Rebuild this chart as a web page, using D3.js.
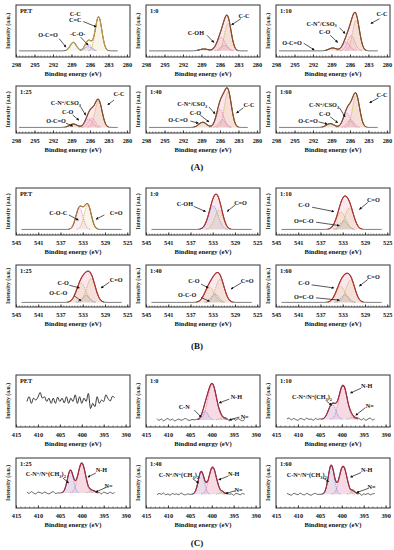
<!DOCTYPE html>
<html><head><meta charset="utf-8">
<script src="https://cdn.jsdelivr.net/npm/d3@7"></script>
<style>
body{margin:0;background:#fff}
text{font-family:"Liberation Serif","Times New Roman",serif;font-weight:bold;fill:#111}
</style>
</head><body>
<svg id="fig" width="394" height="550"></svg>
<script>
// ---- data ----
const groupNames = ["(A)", "(B)", "(C)"];
const panelNames = ["PET", "1:0", "1:10", "1:25", "1:40", "1:60"];
const xDomains = [[298, 279.5], [545, 524.5], [415, 389]];
const xTicks = [
  [298, 295, 292, 289, 286, 283, 280],
  [545, 541, 537, 533, 529, 525],
  [415, 410, 405, 400, 395, 390]
];
const rawSpan = [[297.5, 281.5], [544, 526], [412.5, 392.5]];
const xTitles = [
  ["Binding energy (eV)", "Binding energy (eV)", "Binding energy (eV)", "Binding energy (eV)", "Binding energy (eV)", "Binding energy (eV)"],
  ["Binding energy (eV)", "Binding energy (eV)", "Binding energy (eV)", "Binding energy (eV)", "Binding energy (eV)", "Binding energy (eV)"],
  ["Binding energy (eV)", "Bindind engrgy (eV)", "Binding energy (eV)", "Binding energy (eV)", "Binding energy (eV)", "Binding energy (eV)"]
];
// baseline level of each spectrum
const baseLevels = [
  [0.03, 0.03, 0.03, 0.03, 0.03, 0.03],
  [0.03, 0.03, 0.03, 0.02, 0.02, 0.02],
  [0, 0.05, 0.06, 0.23, 0.2, 0.2]
];
// fitted components: [state, centre eV, height, FWHM eV]
const peaks = [
  [
    [["C-C", 284.6, 0.72, 1.25], ["C-O", 286.2, 0.13, 1.2], ["C-Ob", 286.3, 0.09, 1.3], ["O-C=O", 288.7, 0.18, 1.2]],
    [["C-C", 284.7, 0.58, 1.3], ["C-O", 285.8, 0.28, 1.6], ["C-N", 285.3, 0.12, 1.4], ["O-C=O", 288.6, 0.04, 1.6]],
    [["C-C", 285.0, 0.65, 1.35], ["C-N", 285.8, 0.32, 1.4], ["C-O", 286.6, 0.18, 1.4], ["O-C=O", 288.8, 0.06, 1.5]],
    [["C-C", 284.6, 0.62, 1.35], ["C-N", 285.7, 0.22, 1.3], ["C-O", 286.2, 0.2, 1.4], ["O-C=O", 288.7, 0.08, 1.5]],
    [["C-C", 284.7, 0.82, 1.35], ["C-N", 285.6, 0.18, 1.3], ["C-O", 286.0, 0.42, 1.4], ["O-C=O", 288.8, 0.12, 1.5]],
    [["C-C", 285.0, 0.74, 1.35], ["C-N", 285.9, 0.18, 1.3], ["C-O", 286.5, 0.33, 1.4], ["O-C=O", 289.2, 0.09, 1.5]]
  ],
  [
    [["C-O-C", 533.6, 0.5, 1.5], ["C=O", 532.1, 0.57, 1.5]],
    [["C-OH", 532.9, 0.55, 2.0], ["C=O", 531.9, 0.45, 1.8]],
    [["C-O", 533.3, 0.4, 2.0], ["O-C-O", 532.8, 0.2, 1.6], ["C=O", 531.8, 0.5, 1.9]],
    [["C-O", 533.3, 0.5, 2.0], ["O-C-O", 532.4, 0.18, 1.6], ["C=O", 531.5, 0.62, 1.9]],
    [["C-O", 533.6, 0.4, 2.0], ["O-C-O", 532.6, 0.22, 1.6], ["C=O", 531.7, 0.6, 1.9]],
    [["C-O", 533.4, 0.42, 2.0], ["O-C-O", 532.6, 0.2, 1.6], ["C=O", 531.6, 0.58, 1.9]]
  ],
  [
    [],
    [["N-H", 399.9, 0.76, 2.3], ["C-N", 401.5, 0.18, 1.6], ["N=", 397.6, 0.04, 1.6]],
    [["N-H", 399.7, 0.72, 2.2], ["C-N", 402.2, 0.32, 2.0], ["N=", 397.5, 0.05, 1.6]],
    [["N-H", 400.0, 0.66, 2.0], ["C-N", 402.6, 0.5, 1.6], ["N=", 397.6, 0.05, 1.5]],
    [["N-H", 399.8, 0.6, 2.0], ["C-N", 402.4, 0.5, 1.6], ["N=", 397.6, 0.05, 1.5]],
    [["N-H", 399.7, 0.62, 2.0], ["C-N", 402.4, 0.64, 1.6], ["N=", 397.4, 0.06, 1.5]]
  ]
];
// N 1s raw-signal wiggle, every 0.5 eV from 412.5 down to 392.5
const noiseN = [
  [0.44, 0.54, 0.40, 0.51, 0.47, 0.53, 0.63, 0.51, 0.54, 0.44, 0.51, 0.40, 0.51, 0.40, 0.53, 0.44, 0.51, 0.41, 0.54, 0.40, 0.51,
   0.44, 0.58, 0.40, 0.54, 0.40, 0.51, 0.44, 0.61, 0.29, 0.40, 0.33, 0.54, 0.40, 0.47, 0.44, 0.58, 0.50, 0.45, 0.55, 0.52],
  [0.03, -0.01, 0.02, -0.02, 0.01, 0.03, -0.01, 0.02, -0.02, 0.0, 0.02, -0.01, 0.01, 0.03, 0.0, -0.01, 0.01, 0, 0.01, 0, 0,
   0, 0, 0, 0, 0, 0, 0, 0.01, 0.02, -0.01, 0.01, 0.02, -0.02, 0.01, 0.02, -0.01, 0.03, 0.0, -0.02, 0.01],
  [0.01, 0.03, -0.01, 0.02, 0.0, -0.02, 0.02, 0.01, -0.01, 0.03, 0.0, 0.01, -0.02, 0.02, 0.0, 0.01, 0, 0, 0, 0, 0,
   0, 0, 0, 0, 0, 0, 0.01, -0.01, 0.02, 0.0, -0.02, 0.02, 0.01, -0.01, 0.02, -0.02, 0.01, 0.03, -0.01, 0.01],
  [0.02, -0.01, 0.03, 0.0, -0.02, 0.02, 0.01, -0.01, 0.02, 0.0, -0.02, 0.01, 0.03, -0.01, 0.0, 0, 0, 0, 0, 0, 0,
   0, 0, 0, 0, 0, 0, 0.01, -0.02, 0.02, 0.0, 0.02, -0.01, 0.01, -0.02, 0.02, 0.0, -0.01, 0.02, -0.01, 0.01],
  [-0.01, 0.02, 0.0, 0.03, -0.01, 0.01, -0.02, 0.02, 0.0, 0.01, -0.01, 0.03, 0.0, -0.01, 0.01, 0, 0, 0, 0, 0, 0,
   0, 0, 0, 0, 0, 0, 0.0, 0.02, -0.01, 0.01, -0.02, 0.02, 0.0, 0.01, -0.02, 0.02, 0.01, -0.01, 0.02, 0.0],
  [0.02, 0.0, -0.02, 0.02, 0.01, -0.01, 0.03, 0.0, -0.01, 0.02, 0.0, -0.02, 0.01, 0.02, 0.0, 0, 0, 0, 0, 0, 0,
   0, 0, 0, 0, 0, 0, 0.01, 0.0, -0.02, 0.02, 0.01, -0.01, 0.02, -0.02, 0.01, 0.0, 0.02, -0.01, 0.01, 0.02]
];
// peak annotations: [text, x eV, y, arrow from x, y, arrow to x, y]
const notes = [
  [
    [["C-C", 288.4, 0.81], ["C=C", 288.4, 0.69, 287.1, 0.65, 285.0, 0.54], ["-C-O-", 288.0, 0.40, 287.5, 0.32, 286.3, 0.15], ["O-C=O", 292.8, 0.38, 291.0, 0.29, 289.9, 0.11]],
    [["C-C", 282.1, 0.77, 282.6, 0.71, 284.1, 0.58], ["C-OH", 289.9, 0.42, 288.1, 0.36, 287.0, 0.21]],
    [["C-C", 280.8, 0.81, 281.2, 0.71, 282.6, 0.61], ["C-N^+/CSO_3", 290.6, 0.61, 287.7, 0.52, 286.8, 0.40], ["C-O", 290.1, 0.44, 289.2, 0.36, 288.0, 0.21], ["O-C=O", 295.4, 0.21, 293.5, 0.19, 291.8, 0.05]],
    [["C-C", 281.3, 0.81, 282.1, 0.67, 283.1, 0.56], ["C-N^+/CSO_3", 289.9, 0.60, 287.5, 0.51, 286.7, 0.32], ["C-O", 289.6, 0.39, 288.8, 0.32, 287.8, 0.20], ["O-C=O", 291.5, 0.18, 289.9, 0.13, 288.8, 0.06]],
    [["C-C", 281.3, 0.55, 282.2, 0.49, 283.3, 0.37], ["C-N^+/CSO_3", 290.5, 0.58, 287.8, 0.51, 286.8, 0.35], ["C-O", 290.0, 0.37, 289.2, 0.32, 287.8, 0.16], ["O-C=O", 292.8, 0.20, 290.8, 0.18, 289.5, 0.13]],
    [["C-C", 280.8, 0.79, 281.4, 0.72, 282.8, 0.61], ["C-N^+/CSO_3", 290.2, 0.56, 287.7, 0.49, 286.8, 0.28], ["C-O", 290.1, 0.34, 289.2, 0.28, 288.0, 0.14], ["O-C=O", 292.8, 0.18, 291.1, 0.16, 289.7, 0.11]]
  ],
  [
    [["C-O-C", 537.4, 0.41, 535.5, 0.37, 533.8, 0.25], ["C=O", 527.0, 0.41, 529.1, 0.37, 530.6, 0.27]],
    [["C-OH", 538.0, 0.62, 536.4, 0.57, 534.3, 0.45], ["C=O", 528.0, 0.66, 529.0, 0.60, 530.4, 0.45]],
    [["C-O", 540.0, 0.60, 538.5, 0.55, 534.6, 0.45], ["O=C-O", 540.0, 0.23, 537.8, 0.20, 533.6, 0.12], ["C=O", 527.5, 0.72, 528.5, 0.66, 530.0, 0.50]],
    [["C-O", 536.5, 0.53, 535.4, 0.47, 533.6, 0.40], ["O-C-O", 537.4, 0.27, 534.5, 0.19, 533.3, 0.06], ["C=O", 527.0, 0.61, 528.2, 0.55, 529.7, 0.40]],
    [["C-O", 536.4, 0.58, 535.1, 0.50, 533.8, 0.40], ["O-C-O", 537.6, 0.22, 535.1, 0.15, 533.6, 0.05], ["C=O", 526.8, 0.58, 527.9, 0.53, 529.7, 0.37]],
    [["C-O", 540.0, 0.53, 538.6, 0.48, 534.6, 0.40], ["O=C-O", 540.0, 0.16, 537.8, 0.14, 533.6, 0.08], ["C=O", 527.5, 0.68, 528.5, 0.62, 530.0, 0.45]]
  ],
  [
    [],
    [["N-H", 394.4, 0.53, 396.0, 0.49, 398.3, 0.41], ["C-N", 406.3, 0.32, 404.0, 0.26, 402.4, 0.11], ["N=", 392.5, 0.11, 393.7, 0.11, 396.0, 0.05]],
    [["N-H", 394.3, 0.77, 395.6, 0.72, 398.0, 0.62], ["C-N^+/N^+(CH_3)_2", 406.8, 0.53, 403.5, 0.45, 402.3, 0.36], ["N=", 393.6, 0.34, 394.6, 0.31, 396.8, 0.15]],
    [["C-N^+/N^+(CH_3)_2", 408.2, 0.65, 404.3, 0.56, 403.0, 0.45], ["N-H", 395.5, 0.74, 396.8, 0.67, 398.6, 0.58], ["N=", 393.9, 0.38, 394.3, 0.36, 396.8, 0.25]],
    [["C-N^+/N^+(CH_3)_2", 407.5, 0.63, 404.3, 0.54, 403.0, 0.45], ["N-H", 395.0, 0.65, 396.3, 0.60, 398.4, 0.52], ["N=", 393.9, 0.30, 394.6, 0.28, 396.8, 0.22]],
    [["C-N^+/N^+(CH_3)_2", 408.0, 0.63, 404.3, 0.56, 403.0, 0.48], ["N-H", 394.3, 0.74, 395.6, 0.68, 398.0, 0.58], ["N=", 393.2, 0.36, 394.0, 0.33, 396.6, 0.24]]
  ]
];

// ---- layout ----
const svg = d3.select("#fig");
const colX = [16, 146, 276];
const boxW = 114;
const rowBoxes = [[[5, 57], [86, 133]], [[188, 235], [265, 307]], [[375, 427], [458, 508]]];
const groupLabelY = [167, 346, 543];

const compColours = [
  {"C-C": "#c9ac48", "C-O": "#e27aa6", "C-Ob": "#6f8fe0", "C-N": "#e27aa6", "O-C=O": "#7fbf7f"},
  {"C-O-C": "#e27aa6", "C=O": "#c9ac48", "C-OH": "#6f8fe0", "C-O": "#c9ac48", "O-C-O": "#6f8fe0"},
  {"N-H": "#e27aa6", "C-N": "#6f8fe0", "N=": "#7fbf7f"}
];
const envColours = [["#c4994e", "#8c4a22", "#8c4a22", "#8c4a22", "#8c4a22", "#8c4a22"],
                    ["#b07a3c", "#b8302e", "#b8302e", "#b8302e", "#b8302e", "#b8302e"],
                    ["#222", "#a8283c", "#a8283c", "#a8283c", "#a8283c", "#a8283c"]];

const defs = svg.append("defs");
defs.append("marker").attr("id", "arr").attr("viewBox", "0 0 6 6")
  .attr("refX", 5).attr("refY", 3).attr("markerWidth", 4).attr("markerHeight", 4)
  .attr("orient", "auto")
  .append("path").attr("d", "M0,0L6,3L0,6Z").attr("fill", "#111");

const gauss = (x, p) => p[2] * Math.exp(-4 * Math.LN2 * (x - p[1]) ** 2 / (p[3] * p[3]));

// "^x" -> superscript x, "_x" -> subscript x (done with dy offsets)
function richText(sel, str) {
  let cur = 0;
  str.split(/(\^.|_.)/).filter(s => s).forEach(part => {
    let want = 0, txt = part, small = false;
    if (part[0] === "^") { want = -2.3; txt = part[1]; small = true; }
    else if (part[0] === "_") { want = 1.6; txt = part[1]; small = true; }
    const ts = sel.append("tspan").attr("dy", want - cur).text(txt);
    if (small) ts.attr("font-size", 4.4);
    cur = want;
  });
}

groupNames.forEach((gName, gi) => {
  panelNames.forEach((pName, pi) => {
    const row = Math.floor(pi / 3), col = pi % 3;
    const [top, bot] = rowBoxes[gi][row];
    const x0 = colX[col];
    const x = d3.scaleLinear().domain(xDomains[gi]).range([x0, x0 + boxW]);
    const y = d3.scaleLinear().domain([-0.1, 1]).range([bot, top]);
    const g = svg.append("g");
    const clipId = `clip${gi}${pi}`;
    defs.append("clipPath").attr("id", clipId)
      .append("rect").attr("x", x0).attr("y", top).attr("width", boxW).attr("height", bot - top);
    const plot = g.append("g").attr("clip-path", `url(#${clipId})`);

    const comps = peaks[gi][pi];
    const base = baseLevels[gi][pi];
    const [r0, r1] = rawSpan[gi];
    const fine = d3.range(r0, r1 - 0.001, -0.05);
    const sum = e => d3.sum(comps, p => gauss(e, p));

    // light shading under the fitted envelope
    if (comps.length && pi > 0) {
      const inPeak = fine.filter(e => sum(e) > 0.01);
      plot.append("path").datum(inPeak)
        .attr("d", d3.area().x(e => x(e)).y0(y(base)).y1(e => y(base + sum(e))))
        .attr("fill", "#f6c9d8").attr("fill-opacity", 0.45);
    }

    // component fills and outlines
    comps.forEach(p => {
      const c = compColours[gi][p[0]];
      const pts = fine.filter(e => gauss(e, p) > 0.004);
      plot.append("path").datum(pts)
        .attr("d", d3.area().x(e => x(e)).y0(y(base)).y1(e => y(base + gauss(e, p))))
        .attr("fill", c).attr("fill-opacity", 0.12);
      plot.append("path").datum(pts)
        .attr("d", d3.line().x(e => x(e)).y(e => y(base + gauss(e, p))))
        .attr("fill", "none").attr("stroke", c).attr("stroke-width", 0.8)
        .attr("stroke-dasharray", "1.4,0.9");
    });

    // raw signal
    let rawPts;
    if (gi === 2) {
      rawPts = noiseN[pi].map((v, i) => [r0 - i * 0.5, base + v + sum(r0 - i * 0.5)]);
    } else {
      rawPts = fine.map(e => [e, base + sum(e)]);
    }
    plot.append("path").datum(rawPts)
      .attr("d", d3.line().x(d => x(d[0])).y(d => y(d[1])).curve(d3.curveMonotoneX))
      .attr("fill", "none").attr("stroke", "#222").attr("stroke-width", gi === 2 && pi === 0 ? 0.9 : 0.7);

    // fitted envelope
    if (comps.length) {
      plot.append("path").datum(fine)
        .attr("d", d3.line().defined(e => sum(e) > 0.01).x(e => x(e)).y(e => y(base + sum(e))))
        .attr("fill", "none").attr("stroke", envColours[gi][pi]).attr("stroke-width", 1.1);
    }

    // frame
    g.append("rect").attr("x", x0).attr("y", top).attr("width", boxW).attr("height", bot - top)
      .attr("fill", "none").attr("stroke", "#333").attr("stroke-width", 1);

    // minor ticks along bottom
    const minorStep = gi === 2 ? 1 : 0.5;
    const minor = d3.range(Math.ceil(xDomains[gi][1]), xDomains[gi][0] + 0.01, minorStep);
    g.append("g").attr("transform", `translate(0,${bot})`)
      .call(d3.axisBottom(x).tickValues(minor).tickSize(-1.5).tickFormat(""))
      .call(a => a.select(".domain").remove())
      .call(a => a.selectAll("line").attr("stroke", "#333").attr("stroke-width", 0.6));
    g.append("g").attr("transform", `translate(0,${bot})`)
      .call(d3.axisBottom(x).tickValues(xTicks[gi]).tickSize(-2.5).tickPadding(5.5))
      .call(a => a.select(".domain").remove())
      .call(a => a.selectAll("line").attr("stroke", "#333"))
      .call(a => a.selectAll("text").attr("font-size", 6.3).attr("font-family", null).attr("fill", "#111"));

    g.append("text").attr("x", x0 + boxW / 2).attr("y", bot + 19)
      .attr("text-anchor", "middle").attr("font-size", 6.6).text(xTitles[gi][pi]);
    g.append("text").attr("transform", `translate(${x0 - 6},${(top + bot) / 2}) rotate(-90)`)
      .attr("text-anchor", "middle").attr("font-size", 5.8).text("Intensity (a.u.)");
    g.append("text").attr("x", x0 + 4).attr("y", top + 8).attr("font-size", 6.3).text(pName);

    // annotations
    notes[gi][pi].forEach(n => {
      const t = g.append("text").attr("x", x(n[1])).attr("y", y(n[2]) + 2.2)
        .attr("text-anchor", "middle").attr("font-size", 6.2);
      richText(t, n[0]);
      if (n.length > 3) {
        g.append("line").attr("x1", x(n[3])).attr("y1", y(n[4])).attr("x2", x(n[5])).attr("y2", y(n[6]))
          .attr("stroke", "#111").attr("stroke-width", 0.7).attr("marker-end", "url(#arr)");
      }
    });
  });
  svg.append("text").attr("x", 197).attr("y", groupLabelY[gi] + 3).attr("text-anchor", "middle")
    .attr("font-size", 9).attr("font-weight", "normal").text(gName);
});
</script>
</body></html>
